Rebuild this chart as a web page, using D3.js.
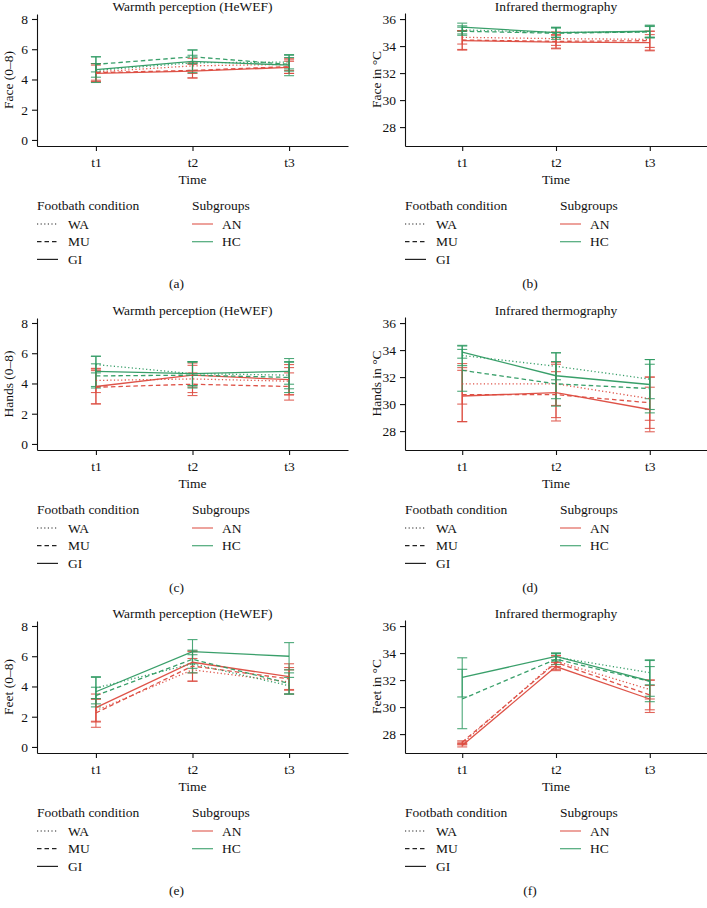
<!DOCTYPE html>
<html><head><meta charset="utf-8">
<script src="https://cdn.jsdelivr.net/npm/d3@7"></script>
<style>
body{margin:0;background:#fff}
svg{display:block}
text{font-family:"Liberation Serif","DejaVu Serif",serif;fill:#111}
</style>
</head><body>
<svg id="chart" width="707" height="908"></svg>
<script>
// ---------- data ----------
const times = ["t1", "t2", "t3"];
const subgroups = ["AN", "HC"];
const conditions = ["WA", "MU", "GI"];
// series order: AN-WA, AN-MU, AN-GI, HC-WA, HC-MU, HC-GI
const faceWarmth = [[4.5,4.9,5.0],[4.45,4.6,4.85],[4.4,4.55,4.8],[4.6,5.1,5.15],[5.0,5.5,5.0],[4.65,5.2,4.95]];
const faceWarmthErr = [[0.55,0.5,0.4],[0.6,0.5,0.45],[0.55,0.45,0.4],[0.45,0.5,0.45],[0.5,0.45,0.45],[0.85,0.75,0.7]];
const faceIR = [[34.65,34.55,34.5],[34.45,34.35,34.4],[34.4,34.3,34.25],[35.2,35.0,35.05],[35.1,34.95,35.05],[35.4,35.0,35.1]];
const faceIRErr = [[0.5,0.5,0.6],[0.7,0.5,0.7],[0.7,0.5,0.6],[0.3,0.35,0.4],[0.3,0.45,0.45],[0.3,0.35,0.45]];
const handsWarmth = [[4.2,4.3,4.15],[3.75,3.95,3.8],[3.8,4.55,4.25],[5.25,4.65,4.55],[4.5,4.55,4.4],[4.8,4.65,4.8]];
const handsWarmthErr = [[0.8,0.9,0.9],[1.1,0.75,0.9],[1.15,0.8,1.0],[0.55,0.8,0.9],[0.8,0.85,1.0],[1.0,0.8,0.85]];
const handsIR = [[31.5,31.5,30.4],[30.7,30.7,30.1],[30.6,30.85,29.6],[33.6,32.8,31.85],[32.5,31.5,31.15],[33.85,32.1,31.45]];
const handsIRErr = [[1.5,1.6,1.6],[2.0,1.7,1.9],[1.9,2.1,1.65],[0.75,1.0,1.45],[1.55,1.65,1.8],[0.45,1.7,1.85]];
const feetWarmth = [[2.4,5.1,4.3],[2.25,5.35,4.5],[2.6,5.6,4.65],[3.9,5.5,4.05],[3.4,5.8,4.2],[3.65,6.3,6.0]];
const feetWarmthErr = [[0.75,0.75,0.8],[0.95,1.0,0.75],[0.9,0.7,0.85],[0.7,0.6,0.55],[0.55,0.6,0.7],[1.0,0.8,0.9]];
const feetIR = [[27.3,33.4,31.3],[27.4,33.3,30.9],[27.15,33.0,30.6],[null,33.7,32.55],[30.6,33.55,31.9],[32.2,33.75,31.95]];
const feetIRErr = [[0.1,0.4,0.7],[0.1,0.5,1.1],[0.1,0.3,1.0],[0,0.3,0.9],[2.2,0.4,1.1],[1.45,0.25,1.55]];
const warmthTicks = [0, 2, 4, 6, 8];
const irTicks = [28, 30, 32, 34, 36];
const regions = ["Face", "Hands", "Feet"];
const captions = ["(a)", "(b)", "(c)", "(d)", "(e)", "(f)"];

// ---------- style ----------
const colors = {AN: "#dc4a3e", HC: "#2e9a62"};
const dashes = {WA: "1.2,2.4", MU: "4.5,3", GI: null};
const FS = 13.5;

const svg = d3.select("#chart");
const rowOffsets = [0, 304, 607];

const panels = [
  {row:0,col:0,vals:faceWarmth,errs:faceWarmthErr,kind:"w"},
  {row:0,col:1,vals:faceIR,errs:faceIRErr,kind:"ir"},
  {row:1,col:0,vals:handsWarmth,errs:handsWarmthErr,kind:"w"},
  {row:1,col:1,vals:handsIR,errs:handsIRErr,kind:"ir"},
  {row:2,col:0,vals:feetWarmth,errs:feetWarmthErr,kind:"w"},
  {row:2,col:1,vals:feetIR,errs:feetIRErr,kind:"ir"}
];

panels.forEach((p, pi) => {
  const off = rowOffsets[p.row];
  const x0 = p.col ? 405 : 37;
  const x1 = p.col ? 707 : 348;
  const g = svg.append("g");
  const x = d3.scalePoint().domain(times).range([x0, x1]).padding(0.61);
  const y = p.kind === "w"
    ? d3.scaleLinear().domain([-0.4, 8.33]).range([off + 146, off + 14])
    : d3.scaleLinear().domain([26.6, 36.45]).range([off + 146, off + 13]);

  // axes
  const ya = g.append("g").attr("transform", `translate(${x0},0)`)
    .call(d3.axisLeft(y).tickValues(p.kind === "w" ? warmthTicks : irTicks)
      .tickSize(5).tickSizeOuter(0).tickPadding(4));
  const xa = g.append("g").attr("transform", `translate(0,${off + 146})`)
    .call(d3.axisBottom(x).tickSize(5).tickSizeOuter(0).tickPadding(6));
  [ya, xa].forEach(a => {
    a.selectAll("text").attr("font-size", FS).attr("font-family", '"Liberation Serif",serif').attr("fill", "#111");
    a.selectAll("path,line").attr("stroke", "#111").attr("stroke-width", 1.1);
  });

  // titles
  g.append("text").attr("x", (x0 + x1) / 2).attr("y", off + 10.5)
    .attr("text-anchor", "middle").attr("font-size", FS)
    .text(p.kind === "w" ? "Warmth perception (HeWEF)" : "Infrared thermography");
  g.append("text").attr("x", (x0 + x1) / 2).attr("y", off + 184)
    .attr("text-anchor", "middle").attr("font-size", FS).text("Time");
  const yl = p.kind === "w" ? `${regions[p.row]} (0–8)` : `${regions[p.row]} in °C`;
  g.append("text").attr("transform", `translate(${x0 - 24.5},${(y.range()[0] + y.range()[1]) / 2}) rotate(-90)`)
    .attr("text-anchor", "middle").attr("font-size", FS).text(yl);

  // series
  const series = [];
  subgroups.forEach((sg, si) => conditions.forEach((c, ci) => {
    series.push({sg, c, v: p.vals[si * 3 + ci], e: p.errs[si * 3 + ci]});
  }));
  // error bars
  series.forEach(s => {
    s.v.forEach((v, i) => {
      if (v == null) return;
      const cx = x(times[i]);
      const top = y(v + s.e[i]), bot = y(v - s.e[i]);
      const eg = g.append("g").attr("stroke", colors[s.sg]).attr("stroke-width", 1.1).attr("opacity", 0.85);
      eg.append("line").attr("x1", cx).attr("x2", cx).attr("y1", top).attr("y2", bot);
      eg.append("line").attr("x1", cx - 5).attr("x2", cx + 5).attr("y1", top).attr("y2", top);
      eg.append("line").attr("x1", cx - 5).attr("x2", cx + 5).attr("y1", bot).attr("y2", bot);
    });
  });
  // lines
  const line = d3.line().defined(d => d != null).x((d, i) => x(times[i])).y(d => y(d));
  series.forEach(s => {
    g.append("path").datum(s.v).attr("d", line)
      .attr("fill", "none").attr("stroke", colors[s.sg]).attr("stroke-width", 1.3)
      .attr("stroke-dasharray", dashes[s.c]).attr("opacity", 0.95);
  });

  // legend
  const lg = g.append("g");
  lg.append("text").attr("x", x0).attr("y", off + 210).attr("font-size", FS).text("Footbath condition");
  conditions.forEach((c, i) => {
    const ly = off + 224 + i * 17.7;
    lg.append("line").attr("x1", x0).attr("x2", x0 + 21).attr("y1", ly).attr("y2", ly)
      .attr("stroke", "#222").attr("stroke-width", 1.2).attr("stroke-dasharray", dashes[c]);
    lg.append("text").attr("x", x0 + 31).attr("y", ly + 4.5).attr("font-size", FS).text(c);
  });
  const sx = x0 + 155;
  lg.append("text").attr("x", sx).attr("y", off + 210).attr("font-size", FS).text("Subgroups");
  subgroups.forEach((sg, i) => {
    const ly = off + 224 + i * 17.7;
    lg.append("line").attr("x1", sx).attr("x2", sx + 21).attr("y1", ly).attr("y2", ly)
      .attr("stroke", colors[sg]).attr("stroke-width", 1.2).attr("opacity", 0.85);
    lg.append("text").attr("x", sx + 30).attr("y", ly + 4.5).attr("font-size", FS).text(sg);
  });
  g.append("text").attr("x", p.col ? 530 : 176.5).attr("y", off + 288)
    .attr("text-anchor", "middle").attr("font-size", FS).text(captions[pi]);
});
</script>
</body></html>
